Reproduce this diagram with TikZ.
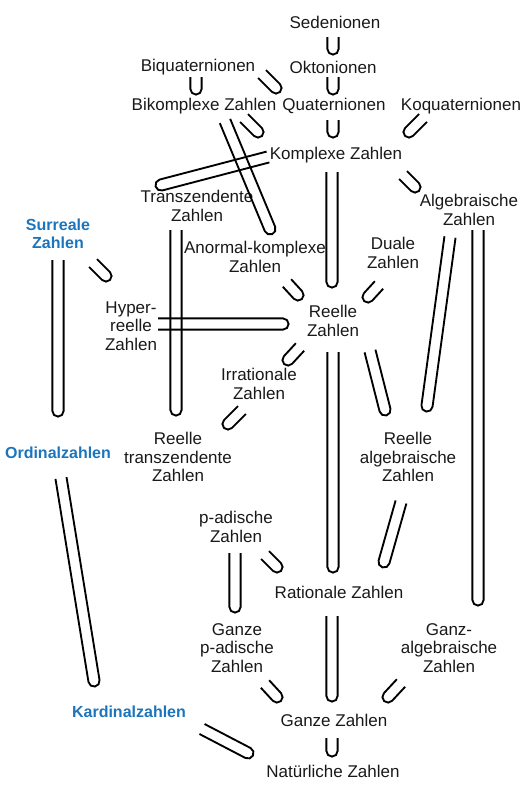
\documentclass[tikz,border=0pt]{standalone}
\usepackage{fontspec}
\setmainfont{Liberation Sans}
\usetikzlibrary{calc}
\definecolor{wikiblau}{RGB}{28,117,188}

\begin{document}
\begin{tikzpicture}[
    x=0.75pt, y=-0.75pt,
    zahl/.style={align=center,text=black!90,inner sep=0pt,font=\fontsize{12.75}{13.9}\selectfont},
    klasse/.style={zahl,text=wikiblau,font=\fontsize{12}{13.9}\selectfont\bfseries},
    sub/.style={line width=1.4pt,
        to path={let \p1=(\tikztostart), \p2=(\tikztotarget), \n1={atan2(\y2-\y1,\x2-\x1)} in
            ($(\tikztotarget)+(\n1+90:4.2pt)$) -- ($(\tikztostart)+(\n1+90:4.2pt)$)
            arc[start angle=\n1+90, end angle=\n1+270, radius=4.2pt]
            -- ($(\tikztotarget)+(\n1-90:4.2pt)$)}},
]
    \useasboundingbox (0,0) rectangle (527,800);

    %hyperkomplexe
    \node[zahl] (sed) at (335,22) {Sedenionen};
    \node[zahl] (okt) at (333,67) {Oktonionen};
    \node[zahl] (biq) at (198,67) {Biquaternionen};
    \node[zahl] (bik) at (204,106) {Bikomplexe Zahlen};
    \node[zahl] (qua) at (334,106) {Quaternionen};
    \node[zahl] (koq) at (461,106) {Koquaternionen};
    \node[zahl] (kom) at (336,155) {Komplexe Zahlen};

    %reelle und algebraische
    \node[zahl] (tra) at (197,206) {Transzendente\\Zahlen};
    \node[zahl] (alg) at (469,210) {Algebraische\\Zahlen};
    \node[zahl] (ano) at (255,257) {Anormal-komplexe\\Zahlen};
    \node[zahl] (dua) at (393,253) {Duale\\Zahlen};
    \node[zahl] (hyp) at (131,326) {Hyper-\\reelle\\Zahlen};
    \node[zahl] (ree) at (333,321) {Reelle\\Zahlen};
    \node[zahl] (irr) at (259,384) {Irrationale\\Zahlen};
    \node[zahl] (rtr) at (178,457) {Reelle\\transzendente\\Zahlen};
    \node[zahl] (ral) at (408,457) {Reelle\\algebraische\\Zahlen};

    %ganze
    \node[zahl] (pad) at (236,527) {p-adische\\Zahlen};
    \node[zahl] (rat) at (339,592) {Rationale Zahlen};
    \node[zahl] (gpa) at (237,648) {Ganze\\p-adische\\Zahlen};
    \node[zahl] (gal) at (449,648) {Ganz-\\algebraische\\Zahlen};
    \node[zahl] (gan) at (334,720) {Ganze Zahlen};
    \node[zahl] (nat) at (333,771) {Natürliche Zahlen};

    %ordinal / kardinal
    \node[klasse] (sur) at (58,234) {Surreale\\Zahlen};
    \node[klasse] (ord) at (58,453) {Ordinalzahlen};
    \node[klasse] (kar) at (129,712) {Kardinalzahlen};

    %enden der teilmengen-zeichen
    \coordinate (okt-sed) at (333,49);  \coordinate (sed-okt) at (333,37);
    \coordinate (qua-okt) at (333,89);  \coordinate (okt-qua) at (333,77);
    \coordinate (bik-biq) at (196,89);  \coordinate (biq-bik) at (196,77);
    \coordinate (qua-biq) at (276,88);  \coordinate (biq-qua) at (262,74);
    \coordinate (kom-bik) at (258,132); \coordinate (bik-kom) at (244,118);
    \coordinate (kom-qua) at (333,132); \coordinate (qua-kom) at (333,120);
    \coordinate (kom-koq) at (409,132); \coordinate (koq-kom) at (423,118);
    \coordinate (tra-kom) at (161,185); \coordinate (kom-tra) at (268,157);
    \coordinate (ano-bik) at (270,229); \coordinate (bik-ano) at (225,121);
    \coordinate (ree-kom) at (332,282); \coordinate (kom-ree) at (332,172);
    \coordinate (alg-kom) at (415,187); \coordinate (kom-alg) at (403,175);
    \coordinate (rtr-tra) at (176,410); \coordinate (tra-rtr) at (176,230);
    \coordinate (ord-sur) at (58,411);  \coordinate (sur-ord) at (58,260);
    \coordinate (hyp-sur) at (106,276); \coordinate (sur-hyp) at (93,263);
    \coordinate (ree-ano) at (298,295); \coordinate (ano-ree) at (287,283);
    \coordinate (ree-dua) at (368,297); \coordinate (dua-ree) at (379,285);
    \coordinate (ree-hyp) at (283,324); \coordinate (hyp-ree) at (158,324);
    \coordinate (irr-ree) at (288,360); \coordinate (ree-irr) at (300,347);
    \coordinate (rtr-irr) at (228,424); \coordinate (irr-rtr) at (242,410);
    \coordinate (rat-ree) at (333,567); \coordinate (ree-rat) at (333,352);
    \coordinate (ral-ree) at (385,410); \coordinate (ree-ral) at (370,351);
    \coordinate (ral-alg) at (427,406); \coordinate (alg-ral) at (450,237);
    \coordinate (gal-alg) at (478,600); \coordinate (alg-gal) at (478,230);
    \coordinate (rat-ral) at (384,562); \coordinate (ral-rat) at (401,502);
    \coordinate (rat-pad) at (277,567); \coordinate (pad-rat) at (265,555);
    \coordinate (gpa-pad) at (235,607); \coordinate (pad-gpa) at (235,553);
    \coordinate (gan-gpa) at (277,697); \coordinate (gpa-gan) at (265,684);
    \coordinate (gan-rat) at (332,696); \coordinate (rat-gan) at (332,616);
    \coordinate (gan-gal) at (388,697); \coordinate (gal-gan) at (401,683);
    \coordinate (nat-gan) at (332,751); \coordinate (gan-nat) at (332,738);
    \coordinate (kar-ord) at (94,681);  \coordinate (ord-kar) at (61,478);
    \coordinate (nat-kar) at (248,753); \coordinate (kar-nat) at (202,729);

    \draw[sub] (okt-sed) to (sed-okt);
    \draw[sub] (qua-okt) to (okt-qua);
    \draw[sub] (bik-biq) to (biq-bik);
    \draw[sub] (qua-biq) to (biq-qua);
    \draw[sub] (kom-bik) to (bik-kom);
    \draw[sub] (kom-qua) to (qua-kom);
    \draw[sub] (kom-koq) to (koq-kom);
    \draw[sub] (tra-kom) to (kom-tra);
    \draw[sub] (ano-bik) to (bik-ano);
    \draw[sub] (ree-kom) to (kom-ree);
    \draw[sub] (alg-kom) to (kom-alg);
    \draw[sub] (rtr-tra) to (tra-rtr);
    \draw[sub] (ord-sur) to (sur-ord);
    \draw[sub] (hyp-sur) to (sur-hyp);
    \draw[sub] (ree-ano) to (ano-ree);
    \draw[sub] (ree-dua) to (dua-ree);
    \draw[sub] (ree-hyp) to (hyp-ree);
    \draw[sub] (irr-ree) to (ree-irr);
    \draw[sub] (rtr-irr) to (irr-rtr);
    \draw[sub] (rat-ree) to (ree-rat);
    \draw[sub] (ral-ree) to (ree-ral);
    \draw[sub] (ral-alg) to (alg-ral);
    \draw[sub] (gal-alg) to (alg-gal);
    \draw[sub] (rat-ral) to (ral-rat);
    \draw[sub] (rat-pad) to (pad-rat);
    \draw[sub] (gpa-pad) to (pad-gpa);
    \draw[sub] (gan-gpa) to (gpa-gan);
    \draw[sub] (gan-rat) to (rat-gan);
    \draw[sub] (gan-gal) to (gal-gan);
    \draw[sub] (nat-gan) to (gan-nat);
    \draw[sub] (kar-ord) to (ord-kar);
    \draw[sub] (nat-kar) to (kar-nat);
\end{tikzpicture}
\end{document}
